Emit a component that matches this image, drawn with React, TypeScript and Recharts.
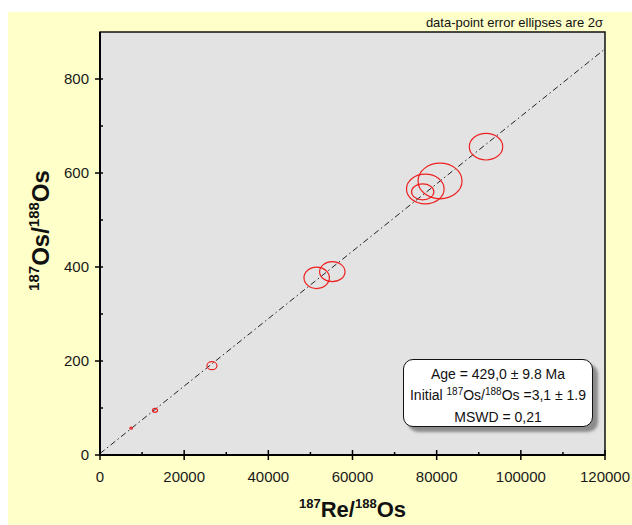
import React from 'react';
import { ScatterChart, Scatter, XAxis, YAxis, ReferenceArea, ReferenceLine } from 'recharts';

// 187Re/188Os vs 187Os/188Os, with 2-sigma half-widths of the error ellipses
const reOs = [7400, 13070, 26600, 51490, 55200, 76680, 77300, 80800, 91730];
const osOs = [57, 95, 190, 377, 390, 560, 566, 583, 656];
const errRe = [300, 600, 1190, 3020, 3020, 2660, 4470, 5230, 3970];
const errOs = [2, 4.3, 8.5, 22.8, 21.3, 17, 31.5, 37.9, 28.3];

// isochron end points
const isoX = [0, 120000];
const isoY = [3.1, 864];

const xTicks = [0, 10000, 20000, 30000, 40000, 50000, 60000, 70000, 80000, 90000, 100000, 110000, 120000];
const yTicks = [0, 100, 200, 300, 400, 500, 600, 700, 800];

const X_MAX = 120000;
const Y_MAX = 900;

const W = 624;
const H = 513;
const MARGIN = { top: 20, right: 27, bottom: 0, left: 0 };
const Y_AXIS_W = 92;
const X_AXIS_H = 70;
const PLOT_W = W - MARGIN.right - MARGIN.left - Y_AXIS_W;
const PLOT_H = H - MARGIN.top - MARGIN.bottom - X_AXIS_H;
const KX = PLOT_W / X_MAX;
const KY = PLOT_H / Y_MAX;

const FONT = '"Liberation Sans", Arial, sans-serif';

const points = reOs.map((x, i) => ({ x, y: osOs[i], ex: errRe[i], ey: errOs[i] }));

const EllipseShape = (props: any) => {
  const { cx, cy, payload } = props;
  return (
    <ellipse
      cx={cx}
      cy={cy}
      rx={Math.max(payload.ex * KX, 1)}
      ry={Math.max(payload.ey * KY, 1)}
      fill="none"
      stroke="#ee2222"
      strokeWidth={1.2}
    />
  );
};

const XTick = ({ x, y, payload }: any) => {
  const major = payload.value % 20000 === 0;
  return (
    <g>
      {major ? (
        <line x1={x} x2={x} y1={y - 5} y2={y + 5} stroke="#000" strokeWidth={1.5} />
      ) : (
        <line x1={x} x2={x} y1={y - 3} y2={y} stroke="#000" strokeWidth={1.5} />
      )}
      {major && (
        <text x={x} y={y + 27} textAnchor="middle" fontSize={15} fontFamily={FONT} fill="#1a1a1a">
          {payload.value}
        </text>
      )}
    </g>
  );
};

const YTick = ({ x, y, payload }: any) => {
  const major = payload.value % 200 === 0;
  return (
    <g>
      {major ? (
        <line x1={x - 5} x2={x + 3} y1={y} y2={y} stroke="#000" strokeWidth={1.5} />
      ) : (
        <line x1={x} x2={x + 3} y1={y} y2={y} stroke="#000" strokeWidth={1.5} />
      )}
      {major && (
        <text x={x - 11} y={y} dy="0.36em" textAnchor="end" fontSize={15} fontFamily={FONT} fill="#1a1a1a">
          {payload.value}
        </text>
      )}
    </g>
  );
};

const XLabel = ({ viewBox }: any) => {
  const cx = viewBox.x + viewBox.width / 2;
  const by = viewBox.y + 62;
  return (
    <text x={cx} y={by} textAnchor="middle" fontFamily={FONT} fontWeight="bold" fill="#111">
      <tspan fontSize={13} dy={-9}>187</tspan>
      <tspan fontSize={22} dy={9}>Re/</tspan>
      <tspan fontSize={13} dy={-9}>188</tspan>
      <tspan fontSize={22} dy={9}>Os</tspan>
    </text>
  );
};

const YLabel = ({ viewBox }: any) => {
  const cx = viewBox.x + 41;
  const cy = viewBox.y + viewBox.height / 2 - 13;
  return (
    <text
      x={cx}
      y={cy}
      textAnchor="middle"
      fontFamily={FONT}
      fontWeight="bold"
      fill="#111"
      transform={`rotate(-90, ${cx}, ${cy})`}
    >
      <tspan fontSize={15} dy={-10}>187</tspan>
      <tspan fontSize={24} dy={10}>Os/</tspan>
      <tspan fontSize={15} dy={-10}>188</tspan>
      <tspan fontSize={24} dy={10}>Os</tspan>
    </text>
  );
};

const sup = { fontSize: 10, position: 'relative' as const, top: -5 };

export default function App() {
  return (
    <div
      style={{
        position: 'absolute',
        left: 8,
        top: 12,
        width: W,
        height: H,
        background: '#ffffc9',
        fontFamily: FONT,
      }}
    >
      <ScatterChart width={W} height={H} margin={MARGIN} style={{ overflow: 'visible' }}>
        <ReferenceArea
          x1={0}
          x2={X_MAX}
          y1={0}
          y2={Y_MAX}
          fill="#e3e3e3"
          fillOpacity={1}
          stroke="#111"
          strokeWidth={1.5}
        />
        <XAxis
          type="number"
          dataKey="x"
          domain={[0, X_MAX]}
          ticks={xTicks}
          interval={0}
          tick={(p: any) => <XTick {...p} />}
          tickLine={false}
          tickSize={0}
          tickMargin={0}
          axisLine={{ stroke: '#000', strokeWidth: 2 }}
          height={X_AXIS_H}
          label={(p: any) => <XLabel viewBox={p.viewBox} />}
        />
        <YAxis
          type="number"
          dataKey="y"
          domain={[0, Y_MAX]}
          ticks={yTicks}
          interval={0}
          tick={(p: any) => <YTick {...p} />}
          tickLine={false}
          tickSize={0}
          tickMargin={0}
          axisLine={{ stroke: '#000', strokeWidth: 2 }}
          width={Y_AXIS_W}
          label={(p: any) => <YLabel viewBox={p.viewBox} />}
        />
        <ReferenceLine
          segment={[
            { x: isoX[0], y: isoY[0] },
            { x: isoX[1], y: isoY[1] },
          ]}
          stroke="#222"
          strokeWidth={1}
          strokeDasharray="6 3 1.5 3"
        />
        <Scatter data={points} shape={EllipseShape} isAnimationActive={false} />
      </ScatterChart>

      <div style={{ position: 'absolute', right: 29, top: 3, fontSize: 13, lineHeight: '15px', color: '#111' }}>
        data-point error ellipses are 2σ
      </div>

      <div
        style={{
          position: 'absolute',
          left: 395,
          top: 347,
          width: 190,
          height: 68,
          boxSizing: 'border-box',
          border: '1.5px solid #111',
          borderRadius: 10,
          background: '#fff',
          boxShadow: '5px 5px 3px #8c8c8c',
          textAlign: 'center',
          fontSize: 14,
          lineHeight: '21px',
          paddingTop: 4,
          color: '#111',
        }}
      >
        <div>Age = 429,0 ± 9.8 Ma</div>
        <div>
          Initial <span style={sup}>187</span>Os/<span style={sup}>188</span>Os =3,1 ± 1.9
        </div>
        <div>MSWD = 0,21</div>
      </div>
    </div>
  );
}
